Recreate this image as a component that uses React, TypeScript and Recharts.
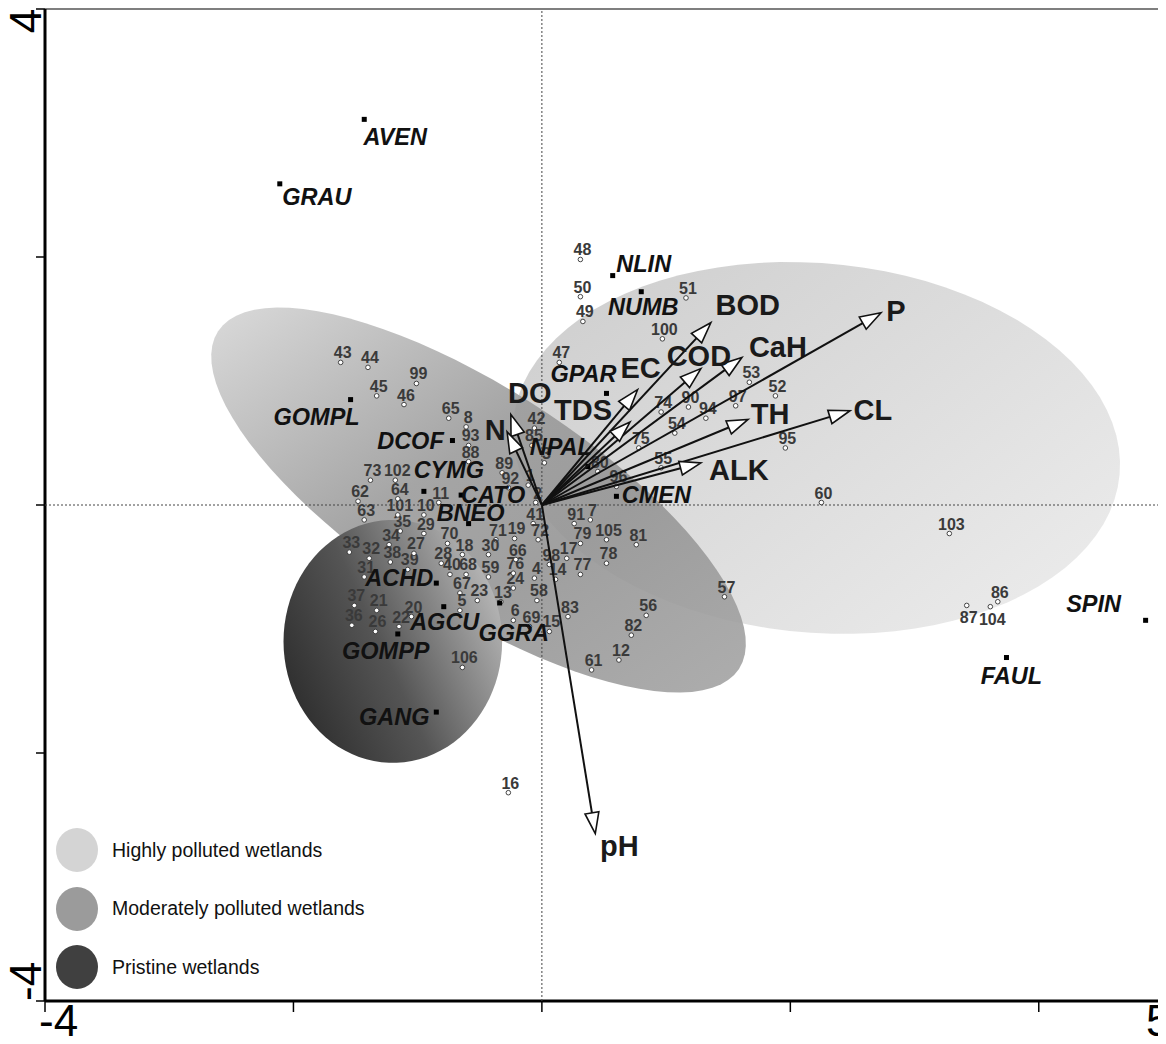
import React from "react";
import { ScatterChart, Scatter, XAxis, YAxis, ReferenceLine } from "recharts";

const FONT = '"Liberation Sans", Arial, Helvetica, sans-serif';

/* ---------------- SITES (sampling stations) ---------------- */
const SITES = [
  { id: "48", x: 0.31, y: 1.98 }, { id: "50", x: 0.31, y: 1.68 }, { id: "49", x: 0.33, y: 1.48 },
  { id: "51", x: 1.16, y: 1.67 }, { id: "100", x: 0.97, y: 1.34 }, { id: "47", x: 0.14, y: 1.15 },
  { id: "53", x: 1.67, y: 0.99 }, { id: "52", x: 1.88, y: 0.88 }, { id: "97", x: 1.56, y: 0.8 },
  { id: "90", x: 1.18, y: 0.79 }, { id: "74", x: 0.96, y: 0.75 }, { id: "94", x: 1.32, y: 0.7 },
  { id: "54", x: 1.07, y: 0.58 }, { id: "75", x: 0.78, y: 0.46 }, { id: "95", x: 1.96, y: 0.46 },
  { id: "55", x: 0.96, y: 0.3 }, { id: "80", x: 0.45, y: 0.27 }, { id: "96", x: 0.6, y: 0.15 },
  { id: "60", x: 2.25, y: 0.02 }, { id: "103", x: 3.28, y: -0.23 }, { id: "86", x: 3.67, y: -0.78 },
  { id: "87", x: 3.42, y: -0.81 }, { id: "104", x: 3.61, y: -0.82 }, { id: "57", x: 1.47, y: -0.74 },
  { id: "56", x: 0.84, y: -0.89 }, { id: "82", x: 0.72, y: -1.05 }, { id: "12", x: 0.62, y: -1.25 },
  { id: "61", x: 0.4, y: -1.33 }, { id: "83", x: 0.21, y: -0.9 }, { id: "15", x: 0.06, y: -1.02 },
  { id: "69", x: -0.1, y: -0.98 }, { id: "6", x: -0.23, y: -0.93 }, { id: "58", x: -0.04, y: -0.77 },
  { id: "13", x: -0.33, y: -0.78 }, { id: "24", x: -0.23, y: -0.67 }, { id: "23", x: -0.52, y: -0.77 },
  { id: "67", x: -0.66, y: -0.71 }, { id: "5", x: -0.66, y: -0.85 }, { id: "40", x: -0.74, y: -0.56 },
  { id: "68", x: -0.61, y: -0.56 }, { id: "59", x: -0.43, y: -0.58 }, { id: "76", x: -0.23, y: -0.55 },
  { id: "4", x: -0.06, y: -0.59 }, { id: "14", x: 0.11, y: -0.6 }, { id: "98", x: 0.06, y: -0.48 },
  { id: "17", x: 0.2, y: -0.43 }, { id: "77", x: 0.31, y: -0.56 }, { id: "78", x: 0.52, y: -0.47 },
  { id: "79", x: 0.31, y: -0.31 }, { id: "105", x: 0.52, y: -0.28 }, { id: "81", x: 0.76, y: -0.32 },
  { id: "91", x: 0.26, y: -0.15 }, { id: "7", x: 0.39, y: -0.12 }, { id: "41", x: -0.07, y: -0.15 },
  { id: "72", x: -0.03, y: -0.28 }, { id: "19", x: -0.22, y: -0.27 }, { id: "71", x: -0.37, y: -0.28 },
  { id: "66", x: -0.21, y: -0.44 }, { id: "30", x: -0.43, y: -0.4 }, { id: "18", x: -0.64, y: -0.4 },
  { id: "70", x: -0.76, y: -0.31 }, { id: "28", x: -0.81, y: -0.47 }, { id: "39", x: -1.08, y: -0.52 },
  { id: "27", x: -1.03, y: -0.39 }, { id: "34", x: -1.23, y: -0.32 }, { id: "38", x: -1.22, y: -0.46 },
  { id: "32", x: -1.39, y: -0.43 }, { id: "33", x: -1.55, y: -0.38 }, { id: "31", x: -1.43, y: -0.58 },
  { id: "37", x: -1.51, y: -0.81 }, { id: "21", x: -1.33, y: -0.85 }, { id: "36", x: -1.53, y: -0.97 },
  { id: "26", x: -1.34, y: -1.02 }, { id: "20", x: -1.05, y: -0.9 }, { id: "22", x: -1.15, y: -0.98 },
  { id: "106", x: -0.64, y: -1.31 }, { id: "16", x: -0.27, y: -2.32 }, { id: "35", x: -1.14, y: -0.21 },
  { id: "29", x: -0.95, y: -0.23 }, { id: "101", x: -1.16, y: -0.08 }, { id: "10", x: -0.95, y: -0.08 },
  { id: "64", x: -1.16, y: 0.05 }, { id: "11", x: -0.83, y: 0.02 }, { id: "62", x: -1.48, y: 0.03 },
  { id: "63", x: -1.43, y: -0.12 }, { id: "73", x: -1.38, y: 0.2 }, { id: "102", x: -1.18, y: 0.2 },
  { id: "89", x: -0.32, y: 0.26 }, { id: "92", x: -0.27, y: 0.14 }, { id: "1", x: -0.11, y: 0.16 },
  { id: "2", x: -0.05, y: 0.02 }, { id: "3", x: 0.02, y: 0.34 }, { id: "42", x: -0.06, y: 0.62 },
  { id: "85", x: -0.08, y: 0.48 }, { id: "93", x: -0.59, y: 0.48 }, { id: "88", x: -0.59, y: 0.35 },
  { id: "8", x: -0.61, y: 0.63 }, { id: "65", x: -0.75, y: 0.7 }, { id: "43", x: -1.62, y: 1.15 },
  { id: "44", x: -1.4, y: 1.11 }, { id: "45", x: -1.33, y: 0.88 }, { id: "46", x: -1.11, y: 0.81 },
  { id: "99", x: -1.01, y: 0.98 },
];
const SITES_LABEL_BELOW = ["87", "104"];

/* ---------------- SPECIES ---------------- */
const SPECIES = [
  { name: "AVEN", x: -1.43, y: 3.11 }, { name: "GRAU", x: -2.11, y: 2.59 },
  { name: "NLIN", x: 0.57, y: 1.85 }, { name: "NUMB", x: 0.8, y: 1.72 },
  { name: "GPAR", x: 0.52, y: 0.9 }, { name: "GOMPL", x: -1.54, y: 0.85 },
  { name: "DCOF", x: -0.72, y: 0.52 }, { name: "CYMG", x: -0.95, y: 0.11 },
  { name: "CATO", x: -0.65, y: 0.08 }, { name: "BNEO", x: -0.59, y: -0.15 },
  { name: "NPAL", x: 0.37, y: 0.31 }, { name: "CMEN", x: 0.6, y: 0.07 },
  { name: "ACHD", x: -0.85, y: -0.63 }, { name: "AGCU", x: -0.79, y: -0.82 },
  { name: "GGRA", x: -0.34, y: -0.79 }, { name: "GOMPP", x: -1.16, y: -1.04 },
  { name: "GANG", x: -0.85, y: -1.67 }, { name: "SPIN", x: 4.86, y: -0.93 },
  { name: "FAUL", x: 3.74, y: -1.23 },
];
// label centre relative to the marker, px
const SPECIES_LABEL_OFFSET: Record<string, [number, number]> = {
  AVEN: [31, 18], GRAU: [37, 13], NLIN: [31, -12], NUMB: [2, 15], GPAR: [-23, -19],
  GOMPL: [-34, 17], DCOF: [-42, 0], CYMG: [25, -21], CATO: [32, 0], BNEO: [2, -11],
  NPAL: [-27, -20], CMEN: [40, -1], ACHD: [-37, -5], AGCU: [1, 15], GGRA: [14, 30],
  GOMPP: [-12, 17], GANG: [-42, 5], SPIN: [-52, -16], FAUL: [5, 18],
};

/* ---------------- ENVIRONMENTAL VECTORS ---------------- */
const VECTORS = [
  { name: "BOD", x: 1.36, y: 1.47 }, { name: "CaH", x: 1.61, y: 1.19 },
  { name: "P", x: 2.73, y: 1.55 }, { name: "COD", x: 1.28, y: 1.1 },
  { name: "EC", x: 0.77, y: 0.93 }, { name: "TDS", x: 0.71, y: 0.67 },
  { name: "DO", x: -0.25, y: 0.73 }, { name: "N", x: -0.28, y: 0.59 },
  { name: "TH", x: 1.66, y: 0.69 }, { name: "CL", x: 2.48, y: 0.76 },
  { name: "ALK", x: 1.28, y: 0.34 }, { name: "pH", x: 0.43, y: -2.65 },
];
const VECTOR_LABEL_OFFSET: Record<string, [number, number]> = {
  BOD: [37, -18], CaH: [36, -10], P: [15, -2], COD: [-2, -13], EC: [3, -22],
  TDS: [-47, -12], DO: [19, -21], N: [-12, -2], TH: [22, -5], CL: [23, -1],
  ALK: [38, 7], pH: [24, 12],
};

/* ---------------- WETLAND GROUPS (ellipses, data units) ---------------- */
const GROUPS = [
  { key: "high", label: "Highly polluted wetlands", cx: 2.21, cy: 0.46, rx: 2.45, ry: 1.49, angle: -5 },
  { key: "mod", label: "Moderately polluted wetlands", cx: -0.51, cy: 0.04, rx: 2.5, ry: 0.89, angle: -33 },
  { key: "pristine", label: "Pristine wetlands", cx: -1.2, cy: -1.1, rx: 0.88, ry: 0.98, angle: 0 },
];
const LEGEND_COLORS: Record<string, string> = { high: "#d4d4d4", mod: "#9b9b9b", pristine: "#404040" };

const ZERO_H = [{ x: -4, y: 0 }, { x: 5, y: 0 }];
const ZERO_V = [{ x: 0, y: -4 }, { x: 0, y: 4 }];

function ellipseOutline(g: (typeof GROUPS)[number]) {
  const pts: { x: number; y: number }[] = [];
  const a = (g.angle * Math.PI) / 180;
  for (let i = 0; i <= 90; i++) {
    const t = (i / 90) * 2 * Math.PI;
    const u = g.rx * Math.cos(t);
    const v = g.ry * Math.sin(t);
    pts.push({ x: g.cx + u * Math.cos(a) - v * Math.sin(a), y: g.cy + u * Math.sin(a) + v * Math.cos(a) });
  }
  return pts;
}

const Nothing = () => <g />;

function groupFill(key: string) {
  if (key === "high")
    return (
      <linearGradient id="g-high" x1="0" y1="0.1" x2="1" y2="0.9">
        <stop offset="0" stopColor="#cecece" />
        <stop offset="1" stopColor="#ececec" />
      </linearGradient>
    );
  if (key === "mod")
    return (
      <linearGradient id="g-mod" x1="0" y1="0" x2="1" y2="1">
        <stop offset="0" stopColor="#d6d6d6" />
        <stop offset="0.42" stopColor="#9b9b9b" />
        <stop offset="0.65" stopColor="#959595" />
        <stop offset="1" stopColor="#a4a4a4" />
      </linearGradient>
    );
  return (
    <linearGradient id="g-pristine" x1="0" y1="0.75" x2="1" y2="0.25">
      <stop offset="0" stopColor="#2c2c2c" />
      <stop offset="0.45" stopColor="#555555" />
      <stop offset="1" stopColor="#bdbdbd" />
    </linearGradient>
  );
}

const ellipseShape = (key: string) => (props: any) => {
  const pts = props.points || [];
  const d = pts.map((p: any, i: number) => `${i ? "L" : "M"}${p.x},${p.y}`).join(" ") + " Z";
  return (
    <g>
      <defs>{groupFill(key)}</defs>
      <path d={d} fill={`url(#g-${key})`} fillOpacity={key === "mod" ? 0.9 : 1} stroke="none" />
    </g>
  );
};

const arrowShape = (name: string) => (props: any) => {
  const [p0, p1] = props.points;
  const dx = p1.x - p0.x;
  const dy = p1.y - p0.y;
  const len = Math.hypot(dx, dy);
  const ux = dx / len;
  const uy = dy / len;
  const head = 21;
  const half = 7;
  const bx = p1.x - ux * head;
  const by = p1.y - uy * head;
  const [ox, oy] = VECTOR_LABEL_OFFSET[name];
  return (
    <g>
      <line x1={p0.x} y1={p0.y} x2={bx} y2={by} stroke="#111" strokeWidth={2} />
      <polygon
        points={`${p1.x},${p1.y} ${bx - uy * half},${by + ux * half} ${bx + uy * half},${by - ux * half}`}
        fill="#fff"
        stroke="#111"
        strokeWidth={1.6}
      />
      <text x={p1.x + ox} y={p1.y + oy + 10} textAnchor="middle" fontFamily={FONT} fontWeight="bold" fontSize={29} fill="#1a1a1a">
        {name}
      </text>
    </g>
  );
};

function SiteDot({ cx, cy, payload }: any) {
  const below = SITES_LABEL_BELOW.includes(payload.id);
  return (
    <g>
      <circle cx={cx} cy={cy} r={2.3} fill="#fff" stroke="#333" strokeWidth={0.9} />
      <text x={cx + 2} y={below ? cy + 18 : cy - 4} textAnchor="middle" fontFamily={FONT} fontWeight="bold" fontSize={16} fill="#3a3a3a">
        {payload.id}
      </text>
    </g>
  );
}

function SpeciesDot({ cx, cy, payload }: any) {
  const [ox, oy] = SPECIES_LABEL_OFFSET[payload.name];
  return (
    <g>
      <rect x={cx - 2.5} y={cy - 2.5} width={5} height={5} fill="#000" />
      <text x={cx + ox} y={cy + oy + 8} textAnchor="middle" fontFamily={FONT} fontWeight="bold" fontStyle="italic" fontSize={23.5} fill="#111">
        {payload.name}
      </text>
    </g>
  );
}

function XTick({ x, y, payload }: any) {
  const v = payload.value;
  if (v !== -4 && v !== 5) return <g />;
  return (
    <text x={v === 5 ? x - 17 : x - 6} y={y + 22} textAnchor="start" fontFamily={FONT} fontSize={44} fill="#000">
      {v}
    </text>
  );
}

function YTick({ x, y, payload }: any) {
  const v = payload.value;
  if (v !== -4 && v !== 4) return <g />;
  const bx = x + 7;
  const ty = v === 4 ? y + 12 : y;
  return (
    <text
      x={bx}
      y={ty}
      transform={`rotate(-90, ${bx}, ${ty})`}
      textAnchor={v === 4 ? "middle" : "start"}
      fontFamily={FONT}
      fontSize={44}
      fill="#000"
    >
      {v}
    </text>
  );
}

export default function App() {
  return (
    <div style={{ position: "relative", width: 1166, height: 1044, margin: -8, background: "#fff" }}>
      <ScatterChart width={1166} height={1044} margin={{ top: 9, right: 3, bottom: 0, left: 0 }}>
        <XAxis
          type="number"
          dataKey="x"
          domain={[-4, 5]}
          ticks={[-4, -2, 0, 2, 4, 5]}
          allowDataOverflow
          height={43}
          tickSize={11}
          tickMargin={2}
          axisLine={{ stroke: "#000", strokeWidth: 3 }}
          tickLine={{ stroke: "#000", strokeWidth: 1.5 }}
          tick={<XTick />}
          interval={0}
        />
        <YAxis
          type="number"
          dataKey="y"
          domain={[-4, 4]}
          ticks={[-4, -2, 0, 2, 4]}
          allowDataOverflow
          width={45}
          tickSize={9}
          tickMargin={2}
          axisLine={{ stroke: "#000", strokeWidth: 3 }}
          tickLine={{ stroke: "#000", strokeWidth: 1.5 }}
          tick={<YTick />}
          interval={0}
        />
        <ReferenceLine y={4} stroke="#000" strokeWidth={1.2} />
        <ReferenceLine x={5} stroke="#000" strokeWidth={1.2} />

        {/* wetland group ellipses */}
        {GROUPS.map((g) => (
          <Scatter
            key={g.key}
            name={g.label}
            data={ellipseOutline(g)}
            shape={Nothing}
            line={ellipseShape(g.key)}
            isAnimationActive={false}
          />
        ))}

        {/* dotted zero lines */}
        <Scatter data={ZERO_H} shape={Nothing} line={{ stroke: "#444", strokeWidth: 1, strokeDasharray: "2 2" }} isAnimationActive={false} />
        <Scatter data={ZERO_V} shape={Nothing} line={{ stroke: "#444", strokeWidth: 1, strokeDasharray: "2 2" }} isAnimationActive={false} />

        <Scatter data={SITES} shape={<SiteDot />} isAnimationActive={false} />
        <Scatter data={SPECIES} shape={<SpeciesDot />} isAnimationActive={false} />

        {/* environmental arrows */}
        {VECTORS.map((v) => (
          <Scatter
            key={v.name}
            data={[{ x: 0, y: 0 }, { x: v.x, y: v.y }]}
            shape={Nothing}
            line={arrowShape(v.name)}
            isAnimationActive={false}
          />
        ))}
      </ScatterChart>

      {/* legend */}
      <div style={{ position: "absolute", left: 56, top: 828, fontFamily: FONT }}>
        {GROUPS.map((g) => (
          <div key={g.key} style={{ display: "flex", alignItems: "center", height: 44, marginBottom: 14.5 }}>
            <div style={{ width: 42, height: 44, borderRadius: "50%", background: LEGEND_COLORS[g.key] }} />
            <span style={{ marginLeft: 14, fontSize: 19.5, color: "#111" }}>{g.label}</span>
          </div>
        ))}
      </div>
    </div>
  );
}
